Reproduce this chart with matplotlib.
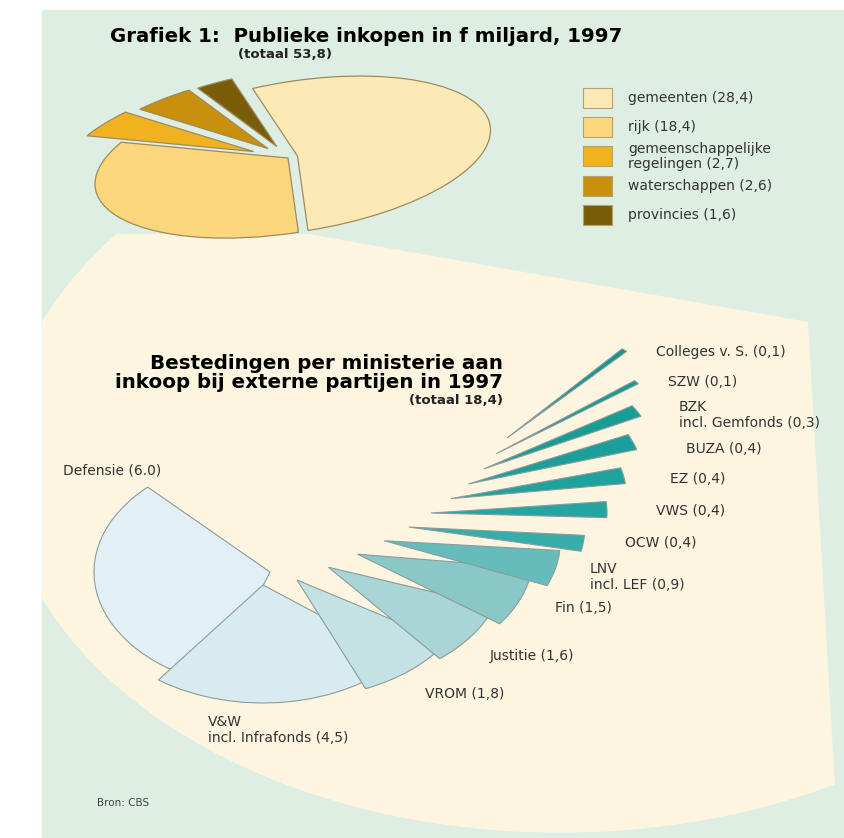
import numpy as np
import matplotlib
matplotlib.use("Agg")
import matplotlib.pyplot as plt
from matplotlib.patches import Rectangle, Ellipse, Polygon, Wedge
from matplotlib.colors import LinearSegmentedColormap
from matplotlib.transforms import Affine2D

# ==========================
# DATA
# ==========================
sectors = ["gemeenten", "rijk", "gemeenschappelijke\nregelingen", "waterschappen", "provincies"]
purchases = [28.4, 18.4, 2.7, 2.6, 1.6]
sector_labels = ["gemeenten (28,4)", "rijk (18,4)", "gemeenschappelijke\nregelingen (2,7)",
                 "waterschappen (2,6)", "provincies (1,6)"]
sector_colors = ["#fde9b6", "#fbd67d", "#f1b220", "#c8900d", "#7a5d09"]

ministries = ["Defensie", "V&W", "VROM", "Justitie", "Fin", "LNV", "OCW",
              "VWS", "EZ", "BUZA", "BZK", "SZW", "Colleges v. S."]
spend = [6.0, 4.5, 1.8, 1.6, 1.5, 0.9, 0.4, 0.4, 0.4, 0.4, 0.3, 0.1, 0.1]
ministry_labels = ["Defensie (6.0)", "V&W\nincl. Infrafonds (4,5)", "VROM (1,8)",
                   "Justitie (1,6)", "Fin (1,5)", "LNV\nincl. LEF (0,9)", "OCW (0,4)",
                   "VWS (0,4)", "EZ (0,4)", "BUZA (0,4)", "BZK\nincl. Gemfonds (0,3)",
                   "SZW (0,1)", "Colleges v. S. (0,1)"]

# ==========================
# CANVAS (pixel coordinates)
# ==========================
W, H = 845, 838
fig = plt.figure(figsize=(W / 100, H / 100), dpi=100)
ax = fig.add_axes([0, 0, 1, 1])
ax.set_xlim(0, W)
ax.set_ylim(H, 0)
ax.axis("off")

GREEN = "#dfeee2"
BEIGE = "#fef5e1"
ax.add_patch(Rectangle((42, 10), W - 42, H - 10, color=GREEN, zorder=0))

# beige "zoom" fan from rijk down to the ministry chart
clip = Polygon([(42, 234), (308, 234), (808, 322), (838, 838), (42, 838)],
               closed=True, transform=ax.transData)
fan = Ellipse((560, 460), 1114, 744, color=BEIGE, zorder=1)
ax.add_patch(fan)
fan.set_clip_path(clip)

# ==========================
# TOP PIE (flattened, slightly tilted)
# ==========================
A, B = 195, 75          # px per unit radius
cx, cy = 288, 158
tilt = 9
pax = fig.add_axes([(cx - 1.5 * A) / W, 1 - (cy + 1.5 * B) / H, 3 * A / W, 3 * B / H])
wedges, _ = pax.pie(purchases, explode=[0.05, 0, 0.23, 0.19, 0.18], startangle=100,
                    counterclock=False, colors=sector_colors,
                    wedgeprops=dict(edgecolor="#9d8b5f", linewidth=0.9))
pax.set_xlim(-1.5, 1.5)
pax.set_ylim(-1.5, 1.5)
pax.set_aspect("auto")
pax.axis("off")
rot = Affine2D().rotate_deg_around(cx, H - cy, tilt)
for w in wedges:
    w.set_transform(pax.transData + rot)
    w.set_clip_on(False)

ax.text(110, 37, "Grafiek 1:  Publieke inkopen in f miljard, 1997",
        fontsize=14.2, fontweight="bold", va="center", ha="left", zorder=5)
ax.text(238, 54, "(totaal 53,8)", fontsize=9.5, fontweight="bold",
        va="center", ha="left", color="#222222", zorder=5)

# legend
for i, (lab, col) in enumerate(zip(sector_labels, sector_colors)):
    y = 98 + 29.2 * i
    ax.add_patch(Rectangle((583, y - 10), 29, 20, facecolor=col,
                           edgecolor="#b3a170", linewidth=0.8, zorder=5))
    ax.text(628, y, lab, fontsize=10, va="center", ha="left",
            color="#333333", linespacing=1.05, zorder=5)

# ==========================
# MINISTRY FAN (pie seen in perspective, slices shifted and stacked)
# ==========================
RX, RY = 176, 118       # px radius of the tilted pie

def ewedge(tip, th1, th2, **kw):
    w = Wedge((0, 0), 1, th1, th2, **kw)
    w.set_transform(Affine2D().scale(RX, -RY).translate(*tip) + ax.transData)
    return w

deg_per_unit = 360 / sum(spend)
spans = [deg_per_unit * v for v in spend]

cmap = LinearSegmentedColormap.from_list(
    "fan", [(0.0, "#e2f0f6"), (0.09, "#d7ebf1"), (0.17, "#c3e0e3"),
            (0.25, "#a9d5d6"), (0.33, "#8bc9c9"), (0.42, "#63bbb9"),
            (0.5, "#36ada9"), (0.6, "#22a4a0"), (1.0, "#12968f")])
n = len(spend)
colors = [cmap(i / (n - 1)) for i in range(n)]
edge = dict(edgecolor="#8a9c9c", linewidth=0.8)

# slice tips: Defensie and V&W near each other, the rest along a curve
P0, P1, P2 = np.array([297, 580]), np.array([460, 517]), np.array([507, 438])
tips = [(270, 572), (263, 585)]
for j in range(n - 2):
    t = j / (n - 3)
    tips.append(tuple((1 - t) ** 2 * P0 + 2 * t * (1 - t) * P1 + t ** 2 * P2))

start = 134.0
for i in range(n):
    ax.add_patch(ewedge(tips[i], start, start + spans[i],
                        facecolor=colors[i], zorder=3 + i, **edge))
    # big slices overlap a lot, thin ones leave small gaps
    start += 7.5 + spans[i] ** 2 / 150 + 20 / (spans[i] + 4)

label_pos = [(63, 470), (208, 730), (425, 694), (490, 656), (555, 608),
             (590, 577), (625, 543), (656, 511), (670, 479), (686, 449),
             (679, 415), (668, 382), (656, 352)]
for lab, (x, y) in zip(ministry_labels, label_pos):
    ax.text(x, y, lab, fontsize=10, va="center", ha="left", color="#333333",
            linespacing=1.1, zorder=20)

ax.text(503, 363, "Bestedingen per ministerie aan", fontsize=14.3, fontweight="bold",
        va="center", ha="right", zorder=20)
ax.text(503, 382, "inkoop bij externe partijen in 1997", fontsize=14.3, fontweight="bold",
        va="center", ha="right", zorder=20)
ax.text(503, 400, "(totaal 18,4)", fontsize=9.5, fontweight="bold",
        va="center", ha="right", color="#222222", zorder=20)

ax.text(97, 803, "Bron: CBS", fontsize=7.5, va="center", ha="left", color="#444444", zorder=20)

fig.savefig("out.png", dpi=100, facecolor="white")
